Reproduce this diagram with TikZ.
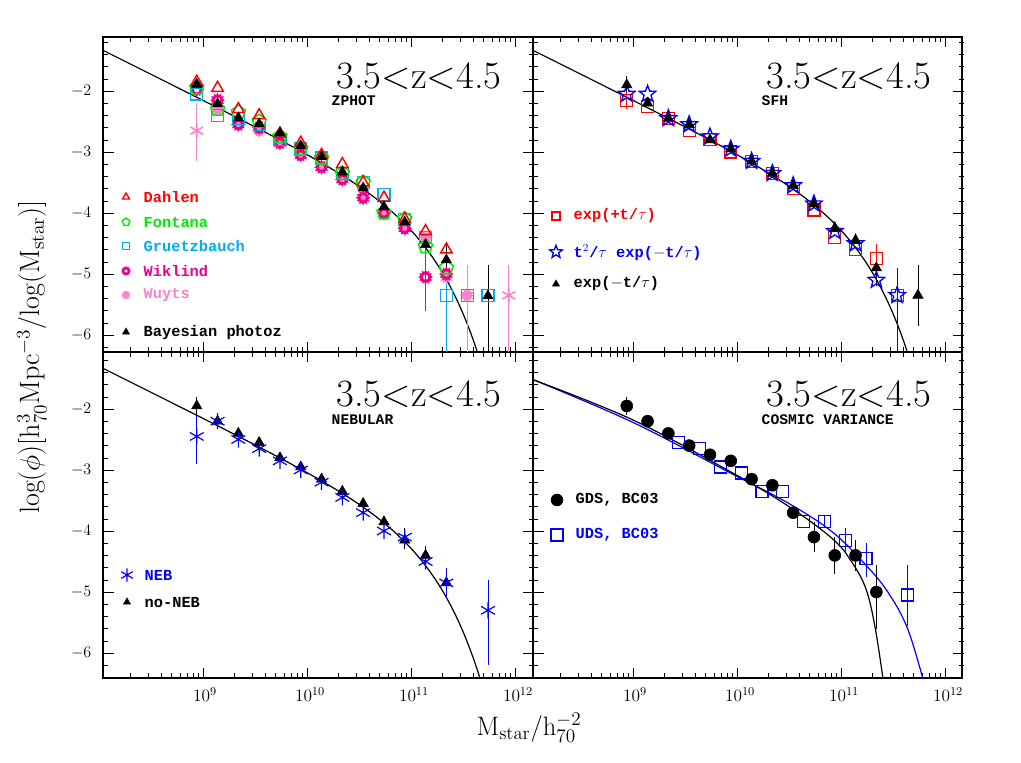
\documentclass[tikz,border=0pt]{standalone}
\usepackage{fontspec}
\usetikzlibrary{plotmarks}
\newfontfamily\labfont{Liberation Mono}
\definecolor{wuyts}{RGB}{250,130,200}
\definecolor{fontgreen}{RGB}{0,235,0}
% open five-pointed star
\pgfdeclareplotmark{ostar}{%
  \pgfpathmoveto{\pgfpointpolar{90}{\pgfplotmarksize}}
  \foreach \a in {126,198,270,342,414} {
    \pgfpathlineto{\pgfpointpolar{\a}{0.42\pgfplotmarksize}}
    \pgfpathlineto{\pgfpointpolar{\a+36}{\pgfplotmarksize}}}
  \pgfpathclose\pgfusepathqstroke}
% toothed ring
\pgfdeclareplotmark{gear}{%
  \pgfpathmoveto{\pgfpointpolar{0}{\pgfplotmarksize}}
  \foreach \a in {15,45,...,345} {
    \pgfpathlineto{\pgfpointpolar{\a}{0.72\pgfplotmarksize}}
    \pgfpathlineto{\pgfpointpolar{\a+15}{\pgfplotmarksize}}}
  \pgfpathclose
  \pgfpathcircle{\pgfpointorigin}{0.38\pgfplotmarksize}
  \pgfseteorule\pgfusepathqfill}
% filled burst
\pgfdeclareplotmark{burst}{%
  \pgfpathmoveto{\pgfpointpolar{0}{\pgfplotmarksize}}
  \foreach \a in {15,45,...,345} {
    \pgfpathlineto{\pgfpointpolar{\a}{0.62\pgfplotmarksize}}
    \pgfpathlineto{\pgfpointpolar{\a+15}{\pgfplotmarksize}}}
  \pgfpathclose\pgfusepathqfill}
\tikzset{
  fitline/.style={line width=0.9pt},
  errbar/.style={line width=0.5pt},
  panel/.style={x=78pt,y=45.75pt},
  ptitle/.style={font=\fontsize{29}{29}\selectfont},
  psub/.style={font=\labfont\bfseries\fontsize{11}{11}\selectfont, anchor=west},
  legtext/.style={font=\labfont\bfseries\fontsize{11.5}{12}\selectfont, anchor=west},
  ticklab/.style={font=\fontsize{13}{13}\selectfont}
}
% ticks of one panel, in panel units (log M, log phi)
\newcommand{\paneltick}[2]{%
  \foreach \d in {9,10,11,12} {
    \draw (\d,#1) -- ++(0,0.16); \draw (\d,#2) -- ++(0,-0.16);}
  \foreach \d in {8,9,10,11} \foreach \m in {2,...,9} {
    \draw ({\d+log10(\m)},#1) -- ++(0,0.08); \draw ({\d+log10(\m)},#2) -- ++(0,-0.08);}
  \foreach \v in {-6,...,-2} {
    \draw (8.04,\v) -- ++(0.1,0); \draw (12.18,\v) -- ++(-0.1,0);}
  \foreach \v in {-6.2,-6.0,...,-1.2} {
    \draw (8.04,\v) -- ++(0.05,0); \draw (12.18,\v) -- ++(-0.05,0);}
}
\newcommand{\schfit}{\draw [fitline] plot[domain=8.04:11.72,samples=100] (\x,{-3.85-0.85*(\x-11.0)-10^(\x-11.0)/ln(10)});}
\begin{document}
\begin{tikzpicture}[x=0.75pt,y=-0.75pt]
\useasboundingbox (0,0) rectangle (1021,763);

%Frame
\draw [line width=0.9pt] (103,37) rectangle (962,678);
\draw [line width=0.9pt] (533,37) -- (533,678);
\draw [line width=0.9pt] (103,352) -- (962,352);

% ---------------- top left: ZPHOT
\begin{scope}[shift={(-733,-31)},panel]
\paneltick{-6.28}{-1.115}
\begin{scope}
\clip (8.04,-6.28) rectangle (12.18,-1.115);
\schfit
\end{scope}
\draw [wuyts,errbar] (8.94,-2.2) -- (8.94,-3.15) (11.54,-4.85) -- (11.54,-6.28) (11.94,-4.85) -- (11.94,-6.28);
\draw [magenta,errbar] (11.14,-4.55) -- (11.14,-5.6);
\draw [cyan,errbar] (11.34,-4.9) -- (11.34,-6.28);
\draw [errbar] (11.74,-4.85) -- (11.74,-6.28) (11.34,-4.5) -- (11.34,-5.0);
\draw [wuyts] plot[only marks,mark=burst,mark size=5.5pt,mark options={fill=wuyts}] coordinates {(9.14,-2.3) (9.34,-2.55) (9.54,-2.65) (9.74,-2.85) (9.94,-3.0) (10.14,-3.25) (10.34,-3.4) (10.54,-3.75) (10.74,-4.0) (10.94,-4.2) (11.14,-4.4) (11.34,-5.05) (11.54,-5.35)};
\draw [wuyts] plot[only marks,mark=asterisk,mark size=5.5pt,mark options={line width=1.2pt}] coordinates {(8.94,-2.65) (11.94,-5.35)};
\draw [magenta] plot[only marks,mark=gear,mark size=5.5pt,mark options={fill=magenta}] coordinates {(8.94,-1.98) (9.14,-2.15) (9.34,-2.55) (9.54,-2.6) (9.74,-2.85) (9.94,-3.05) (10.14,-3.25) (10.34,-3.45) (10.54,-3.75) (10.74,-4.0) (10.94,-4.25) (11.14,-5.05) (11.34,-5.0)};
\draw [cyan] plot[only marks,mark=square,mark size=4.5pt,mark options={line width=0.9pt}] coordinates {(8.94,-2.05) (9.14,-2.4) (9.34,-2.45) (9.54,-2.55) (9.74,-2.8) (9.94,-2.95) (10.14,-3.1) (10.34,-3.35) (10.54,-3.5) (10.74,-3.7) (10.94,-4.1) (11.14,-4.4) (11.34,-5.35) (11.54,-5.35) (11.74,-5.35)};
\draw [fontgreen] plot[only marks,mark=pentagon,mark size=5.5pt,mark options={line width=1.1pt}] coordinates {(8.94,-1.95) (9.14,-2.3) (9.34,-2.35) (9.54,-2.5) (9.74,-2.75) (9.94,-2.95) (10.14,-3.1) (10.34,-3.35) (10.54,-3.5) (10.74,-4.0) (10.94,-4.1) (11.14,-4.55) (11.34,-4.9)};
\draw [red] plot[only marks,mark=triangle,mark size=5pt,mark options={line width=1.1pt}] coordinates {(8.94,-1.85) (9.14,-1.95) (9.34,-2.3) (9.54,-2.4) (9.74,-2.7) (9.94,-2.85) (10.14,-3.05) (10.34,-3.2) (10.54,-3.5) (10.74,-3.75) (10.94,-4.1) (11.14,-4.3) (11.34,-4.6)};
\draw plot[only marks,mark=triangle*,mark size=4.5pt] coordinates {(8.94,-1.89) (9.14,-2.21) (9.34,-2.44) (9.54,-2.54) (9.74,-2.69) (9.94,-2.9) (10.14,-3.08) (10.34,-3.33) (10.54,-3.59) (10.74,-3.9) (10.94,-4.15) (11.14,-4.52) (11.34,-4.77) (11.74,-5.36)};
\end{scope}
\node [ptitle] (tlt) at (419,76) {3.5<z<4.5};
\node [psub] (tls) at (327,101) {ZPHOT};
\draw [red] plot[only marks,mark=triangle,mark size=3pt,mark options={line width=1pt}] coordinates {(126,197)};
\draw [fontgreen] plot[only marks,mark=pentagon,mark size=3pt,mark options={line width=1pt}] coordinates {(126,222)};
\draw [cyan] plot[only marks,mark=square,mark size=2.5pt,mark options={line width=0.9pt}] coordinates {(126,246)};
\draw [magenta] plot[only marks,mark=gear,mark size=3.8pt,mark options={fill=magenta}] coordinates {(126,271)};
\draw [wuyts] plot[only marks,mark=burst,mark size=3.8pt,mark options={fill=wuyts}] coordinates {(126,295)};
\draw plot[only marks,mark=triangle*,mark size=3pt] coordinates {(126,332)};
\node [legtext,red] (l1) at (139,197) {Dahlen};
\node [legtext,fontgreen] (l2) at (139,222) {Fontana};
\node [legtext,cyan] (l3) at (139,246) {Gruetzbauch};
\node [legtext,magenta] (l4) at (139,271) {Wiklind};
\node [legtext,wuyts] (l5) at (139,295) {Wuyts};
\node [legtext] (l6) at (139,333) {Bayesian photoz};

% ---------------- top right: SFH
\begin{scope}[shift={(-303,-31)},panel]
\paneltick{-6.28}{-1.115}
\begin{scope}
\clip (8.04,-6.28) rectangle (12.18,-1.115);
\schfit
\end{scope}
\draw [errbar] (11.74,-4.85) -- (11.74,-5.85) (8.94,-1.75) -- (8.94,-2.05) (11.34,-4.6) -- (11.34,-5.2);
\draw [blue,errbar] (11.54,-4.9) -- (11.54,-6.28);
\draw [red,errbar] (11.34,-4.5) -- (11.34,-5.0) (8.94,-2.0) -- (8.94,-2.3);
\draw [red] plot[only marks,mark=square,mark size=4.5pt,mark options={line width=0.9pt}] coordinates {(8.94,-2.15) (9.14,-2.25) (9.34,-2.45) (9.54,-2.65) (9.74,-2.8) (9.94,-3.0) (10.14,-3.15) (10.34,-3.35) (10.54,-3.6) (10.74,-3.95) (10.94,-4.4) (11.14,-4.6) (11.34,-4.75) (11.54,-5.35)};
\draw [blue] plot[only marks,mark=ostar,mark size=6.5pt,mark options={line width=1pt}] coordinates {(8.94,-2.05) (9.14,-2.05) (9.34,-2.45) (9.54,-2.55) (9.74,-2.75) (9.94,-2.95) (10.14,-3.15) (10.34,-3.35) (10.54,-3.55) (10.74,-3.85) (10.94,-4.3) (11.14,-4.5) (11.34,-5.1) (11.54,-5.35)};
\draw plot[only marks,mark=triangle*,mark size=4.5pt] coordinates {(8.94,-1.9) (9.14,-2.2) (9.34,-2.45) (9.54,-2.55) (9.74,-2.8) (9.94,-2.95) (10.14,-3.15) (10.34,-3.35) (10.54,-3.55) (10.74,-3.85) (10.94,-4.25) (11.14,-4.45) (11.34,-4.9) (11.74,-5.35)};
\end{scope}
\node [ptitle] (trt) at (849,76) {3.5<z<4.5};
\node [psub] (trs) at (757,101) {SFH};
\draw [red] plot[only marks,mark=square,mark size=3pt,mark options={line width=0.9pt}] coordinates {(556,216)};
\draw [blue] plot[only marks,mark=ostar,mark size=5pt,mark options={line width=1pt}] coordinates {(556,252)};
\draw plot[only marks,mark=triangle*,mark size=3pt] coordinates {(556,284)};
\node [legtext,red] (r1) at (569,216) {exp(+t/$\tau$)};
\node [legtext,blue] (r2) at (569,253) {t$^2$/$\tau$ exp($-$t/$\tau$)};
\node [legtext] (r3) at (569,284) {exp($-$t/$\tau$)};

% ---------------- bottom left: NEBULAR
\begin{scope}[shift={(-733,287)},panel]
\paneltick{-6.41}{-1.066}
\begin{scope}
\clip (8.04,-6.41) rectangle (12.18,-1.066);
\schfit
\end{scope}
\draw [blue,errbar] (8.94,-2.05) -- (8.94,-2.9) (11.74,-4.8) -- (11.74,-6.2) (11.34,-4.6) -- (11.34,-5.1);
\draw [errbar] (8.94,-1.8) -- (8.94,-2.1) (10.94,-3.95) -- (10.94,-4.3) (11.14,-4.25) -- (11.14,-4.6);
\draw plot[only marks,mark=triangle*,mark size=4.5pt] coordinates {(8.94,-1.95) (9.14,-2.2) (9.34,-2.4) (9.54,-2.55) (9.74,-2.8) (9.94,-2.95) (10.14,-3.15) (10.34,-3.35) (10.54,-3.55) (10.74,-3.85) (10.94,-4.15) (11.14,-4.4) (11.34,-4.85)};
\draw [blue] plot[only marks,mark=asterisk,mark size=6pt,mark options={line width=0.9pt}] coordinates {(8.94,-2.45) (9.14,-2.2) (9.34,-2.5) (9.54,-2.65) (9.74,-2.85) (9.94,-3.0) (10.14,-3.2) (10.34,-3.45) (10.54,-3.7) (10.74,-4.0) (10.94,-4.1) (11.14,-4.5) (11.34,-4.85) (11.74,-5.3)};
\end{scope}
\node [ptitle] (blt) at (419,394) {3.5<z<4.5};
\node [psub] (bls) at (327,420) {NEBULAR};
\draw [blue] plot[only marks,mark=asterisk,mark size=5pt,mark options={line width=0.9pt}] coordinates {(127,575)};
\draw plot[only marks,mark=triangle*,mark size=3pt] coordinates {(127,602)};
\node [legtext,blue] (b1) at (140,575) {NEB};
\node [legtext] (b2) at (140,603) {no-NEB};

% ---------------- bottom right: COSMIC VARIANCE
\begin{scope}[shift={(-303,287)},panel]
\paneltick{-6.41}{-1.066}
\begin{scope}
\clip (8.04,-6.41) rectangle (12.18,-1.066);
\draw [fitline,blue] plot[smooth,tension=0.6] coordinates {(8.04,-1.52) (9,-2.22) (9.96,-3.07) (10.5,-3.55) (10.92,-4.02) (11.24,-4.56) (11.45,-5.0) (11.64,-5.6) (11.8,-6.5)};
\draw [fitline] plot[smooth,tension=0.6] coordinates {(8.04,-1.52) (9,-2.18) (9.96,-3.05) (10.5,-3.6) (10.92,-4.13) (11.1,-4.5) (11.24,-4.95) (11.33,-5.6) (11.41,-6.5)};
\end{scope}
\draw [errbar] (8.94,-1.8) -- (8.94,-2.1) (10.74,-3.85) -- (10.74,-4.35) (10.94,-4.1) -- (10.94,-4.7) (11.14,-4.15) -- (11.14,-4.65) (11.34,-4.55) -- (11.34,-5.6);
\draw [blue,errbar] (11.64,-4.55) -- (11.64,-5.55) (11.24,-4.2) -- (11.24,-4.75) (11.04,-3.95) -- (11.04,-4.35) (10.84,-3.75) -- (10.84,-3.95);
\draw [blue] plot[only marks,mark=square,mark size=4.5pt,mark options={line width=0.9pt}] coordinates {(9.44,-2.55) (9.64,-2.65) (9.84,-2.95) (10.04,-3.05) (10.24,-3.35) (10.44,-3.35) (10.64,-3.85) (10.84,-3.85) (11.04,-4.15) (11.24,-4.45) (11.64,-5.05)};
\draw plot[only marks,mark=*,mark size=4.5pt] coordinates {(8.94,-1.95) (9.14,-2.2) (9.34,-2.4) (9.54,-2.6) (9.74,-2.75) (9.94,-2.85) (10.14,-3.15) (10.34,-3.25) (10.54,-3.7) (10.74,-4.1) (10.94,-4.4) (11.14,-4.4) (11.34,-5.0)};
\end{scope}
\node [ptitle] (brt) at (849,394) {3.5<z<4.5};
\node [psub] (brs) at (757,420) {COSMIC VARIANCE};
\draw plot[only marks,mark=*,mark size=4.5pt] coordinates {(557,500)};
\draw [blue] plot[only marks,mark=square,mark size=4.5pt,mark options={line width=0.9pt}] coordinates {(557,535)};
\node [legtext] (c1) at (571,500) {GDS, BC03};
\node [legtext,blue] (c2) at (571,535) {UDS, BC03};

% Tick labels
\foreach \e/\px in {9/205,10/310,11/414,12/518,9/635,10/740,11/844,12/948}
  \node [ticklab] (xl\px) at (\px,695) {10$^{\e}$};
\foreach \v/\py in {-2/91,-3/152,-4/213,-5/274,-6/335,-2/409,-3/470,-4/531,-5/592,-6/653}
  \node [ticklab,anchor=east] (yl\py) at (96,\py) {$\v$};

% Axis titles
\node [font=\fontsize{20}{20}\selectfont] (xt) at (529,728) {M$_{\rm star}$/h$_{70}^{-2}$};
\node [font=\fontsize{21}{21}\selectfont,rotate=90] (yt) at (32,357) {log($\phi$)[h$_{70}^{3}$Mpc$^{-3}$/log(M$_{\rm star}$)]};

\end{tikzpicture}
\end{document}
